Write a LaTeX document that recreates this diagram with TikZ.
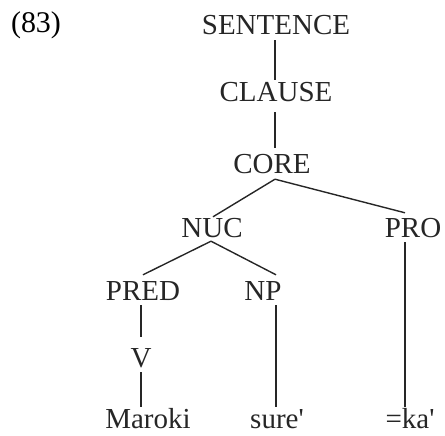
\documentclass[tikz,border=0pt]{standalone}
\usepackage{fontspec}
\setmainfont{Liberation Serif}
\usetikzlibrary{calc}
\begin{document}
\begin{tikzpicture}[x=1pt,y=-1pt,
  lbl/.style={anchor=base,inner sep=0pt,text height=19pt,text depth=0pt,font=\fontsize{29}{29}\selectfont,text=black!85},
  edge/.style={line width=1.4pt,black!85}]
\useasboundingbox (0,0) rectangle (445,436);
\node[anchor=base,inner sep=0pt,font=\fontsize{30}{30}\selectfont] (ex) at (36,33) {(83)};
\node[lbl] (sent) at (276,35) {SENTENCE};
\node[lbl] (clause) at (276,102) {CLAUSE};
\node[lbl] (core) at (272,173) {CORE};
\node[lbl] (nuc) at (212,237) {NUC};
\node[lbl] (pro) at (413,237) {PRO};
\node[lbl] (pred) at (143,300) {PRED};
\node[lbl] (np) at (263,300) {NP};
\node[lbl] (v) at (141,367) {V};
\node[lbl] (maroki) at (148,428) {Maroki};
\node[lbl] (sure) at (277,428) {sure\textquotesingle};
\node[lbl] (ka) at (410,428) {=ka\textquotesingle};
\draw[edge] ($(sent.south)+(-1,5)$) -- ($(clause.north)+(-1,-3)$);
\draw[edge] ($(clause.south)+(-1,10)$) -- ($(core.north)+(3,-6)$);
\draw[edge] ($(core.south)+(3,6)$) -- ($(nuc.north)+(1,-1)$);
\draw[edge] ($(core.south)+(3,6)$) -- ($(pro.north)+(-8,-5)$);
\draw[edge] ($(pro.south)+(-8,5)$) -- ($(ka.north)+(-5,-2)$);
\draw[edge] ($(nuc.south)+(-1,4)$) -- ($(pred.north)+(0,-6)$);
\draw[edge] ($(nuc.south)+(-1,4)$) -- ($(np.north)+(13,-6)$);
\draw[edge] ($(pred.south)+(-2,5)$) -- ($(v.north)+(0,-11)$);
\draw[edge] ($(v.south)+(0,5)$) -- ($(maroki.north)+(-7,-2)$);
\draw[edge] ($(np.south)+(13,5)$) -- ($(sure.north)+(-1,-2)$);
\end{tikzpicture}
\end{document}
